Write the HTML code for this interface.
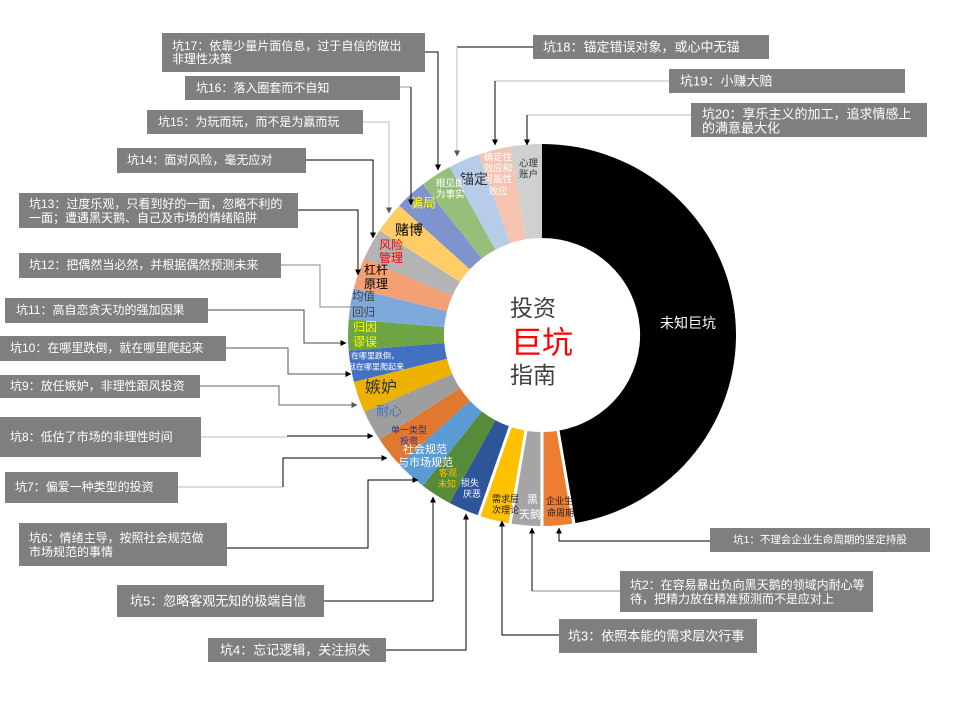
<!DOCTYPE html>
<html><head><meta charset="utf-8"><style>
html,body{margin:0;padding:0;background:#fff;}
svg{display:block;}
text{font-family:"Liberation Sans","Noto Sans CJK SC",sans-serif;dominant-baseline:central;}
.bx{fill:#7f7f7f;}
.bt{fill:#fff;font-size:12px;}
.b13{font-size:13px;}
</style></head><body>
<svg width="960" height="720" viewBox="0 0 960 720" xmlns="http://www.w3.org/2000/svg">
<defs>
<marker id="a" markerWidth="6" markerHeight="6" refX="5.5" refY="3" orient="auto" markerUnits="userSpaceOnUse"><path d="M0,0 L6,3 L0,6 z" fill="#000"/></marker>
<marker id="g" markerWidth="6" markerHeight="6" refX="5.5" refY="3" orient="auto" markerUnits="userSpaceOnUse"><path d="M0,0 L6,3 L0,6 z" fill="#555"/></marker>
</defs>
<rect width="960" height="720" fill="#fff"/>

<!-- donut -->
<path d="M542,144 A194,191 0 0 1 573.9,523.4 L558.1,430.7 A98,97 0 0 0 542,238 Z" fill="#000"/>
<path d="M573.9,523.4 A194,191 0 0 1 542,526 L542,432 A98,97 0 0 0 558.1,430.7 Z" fill="#ED7D31"/>
<path d="M542,526 A194,191 0 0 1 510.1,523.4 L525.9,430.7 A98,97 0 0 0 542,432 Z" fill="#A5A5A5"/>
<path d="M510.1,523.4 A194,191 0 0 1 479.0,515.6 L510.2,426.7 A98,97 0 0 0 525.9,430.7 Z" fill="#FFC000"/>
<path d="M479.0,515.6 A194,191 0 0 1 449.7,503.0 L495.4,420.3 A98,97 0 0 0 510.2,426.7 Z" fill="#2E559A"/>
<path d="M449.7,503.0 A194,191 0 0 1 422.8,485.7 L481.8,411.5 A98,97 0 0 0 495.4,420.3 Z" fill="#558B39"/>
<path d="M422.8,485.7 A194,191 0 0 1 399.3,464.4 L469.9,400.7 A98,97 0 0 0 481.8,411.5 Z" fill="#5B9BD5"/>
<path d="M399.3,464.4 A194,191 0 0 1 379.6,439.5 L460.0,388.1 A98,97 0 0 0 469.9,400.7 Z" fill="#E0782F"/>
<path d="M379.6,439.5 A194,191 0 0 1 364.3,411.7 L452.3,374.0 A98,97 0 0 0 460.0,388.1 Z" fill="#9E9E9E"/>
<path d="M364.3,411.7 A194,191 0 0 1 353.9,381.9 L447.0,358.8 A98,97 0 0 0 452.3,374.0 Z" fill="#EDB100"/>
<path d="M353.9,381.9 A194,191 0 0 1 348.7,350.8 L444.3,343.0 A98,97 0 0 0 447.0,358.8 Z" fill="#4470C2"/>
<path d="M348.7,350.8 A194,191 0 0 1 348.7,319.2 L444.3,327.0 A98,97 0 0 0 444.3,343.0 Z" fill="#6DA544"/>
<path d="M348.7,319.2 A194,191 0 0 1 353.9,288.1 L447.0,311.2 A98,97 0 0 0 444.3,327.0 Z" fill="#7FA9DB"/>
<path d="M353.9,288.1 A194,191 0 0 1 364.3,258.3 L452.3,296.0 A98,97 0 0 0 447.0,311.2 Z" fill="#F2A074"/>
<path d="M364.3,258.3 A194,191 0 0 1 379.6,230.5 L460.0,281.9 A98,97 0 0 0 452.3,296.0 Z" fill="#B4B4B4"/>
<path d="M379.6,230.5 A194,191 0 0 1 399.3,205.6 L469.9,269.3 A98,97 0 0 0 460.0,281.9 Z" fill="#FFCC66"/>
<path d="M399.3,205.6 A194,191 0 0 1 422.8,184.3 L481.8,258.5 A98,97 0 0 0 469.9,269.3 Z" fill="#7F93CE"/>
<path d="M422.8,184.3 A194,191 0 0 1 449.7,167.0 L495.4,249.7 A98,97 0 0 0 481.8,258.5 Z" fill="#96BF7C"/>
<path d="M449.7,167.0 A194,191 0 0 1 479.0,154.4 L510.2,243.3 A98,97 0 0 0 495.4,249.7 Z" fill="#B6CCE8"/>
<path d="M479.0,154.4 A194,191 0 0 1 510.1,146.6 L525.9,239.3 A98,97 0 0 0 510.2,243.3 Z" fill="#F5C3B0"/>
<path d="M510.1,146.6 A194,191 0 0 1 542,144 L542,238 A98,97 0 0 0 525.9,239.3 Z" fill="#D0D0D0"/>
<!-- white gaps -->
<g stroke="#fff" stroke-width="3">
<line x1="558.1" y1="430.7" x2="574.5" y2="527"/>
<line x1="542" y1="432" x2="542" y2="529"/>
<line x1="525.9" y1="430.7" x2="509.5" y2="527"/>
<line x1="510.2" y1="426.7" x2="478" y2="519"/>
</g>

<!-- ring labels -->
<g>
<text x="519" y="164" font-size="9.5" fill="#333">心理</text>
<text x="519" y="175" font-size="9.5" fill="#333">账户</text>
<g font-size="9.5" fill="#fff" text-anchor="middle">
<text x="498" y="158">确定性</text>
<text x="498" y="169">效应和</text>
<text x="498" y="180">可能性</text>
<text x="498" y="192">效应</text>
</g>
<text x="460" y="179" font-size="14" fill="#333">锚定</text>
<text x="436" y="184" font-size="9.5" fill="#fff">眼见即</text>
<text x="436" y="195" font-size="9.5" fill="#fff">为事实</text>
<text x="410" y="203" font-size="13" fill="#FFFF00">骗局</text>
<text x="395" y="230" font-size="14" fill="#000">赌博</text>
<text x="379" y="245" font-size="12" fill="#FF0000">风险</text>
<text x="379" y="258" font-size="12" fill="#FF0000">管理</text>
<text x="364" y="270" font-size="12" fill="#000">杠杆</text>
<text x="364" y="284" font-size="12" fill="#000">原理</text>
<text x="352" y="297" font-size="11.5" fill="#404040">均值</text>
<text x="352" y="313" font-size="11.5" fill="#404040">回归</text>
<text x="353" y="327" font-size="12" fill="#FFFF00">归因</text>
<text x="353" y="342" font-size="12" fill="#FFFF00">谬误</text>
<text x="351" y="356" font-size="8" fill="#fff">在哪里跌倒，</text>
<text x="348" y="367" font-size="8" fill="#fff">就在哪里爬起来</text>
<text x="365" y="388" font-size="16" fill="#333">嫉妒</text>
<text x="376" y="411" font-size="13" fill="#4472C4">耐心</text>
<text x="391" y="430" font-size="9" fill="#2E3192">单一类型</text>
<text x="400" y="441" font-size="9" fill="#2E3192">投资</text>
<text x="403" y="450" font-size="11" fill="#fff">社会规范</text>
<text x="398" y="463" font-size="11" fill="#fff">与市场规范</text>
<text x="439" y="473" font-size="9" fill="#FFC000">客观</text>
<text x="438" y="484" font-size="9" fill="#FFC000">未知</text>
<text x="461" y="483" font-size="9" fill="#fff">损失</text>
<text x="463" y="494" font-size="9" fill="#fff">厌恶</text>
<text x="492" y="499" font-size="9" fill="#222">需求层</text>
<text x="492" y="510" font-size="9" fill="#222">次理论</text>
<text x="527" y="500" font-size="11" fill="#fff">黑</text>
<text x="519" y="515" font-size="11" fill="#fff">天鹅</text>
<text x="546" y="501" font-size="9" fill="#222">企业生</text>
<text x="547" y="513" font-size="9" fill="#222">命周期</text>
<text x="660" y="323" font-size="14" fill="#fff">未知巨坑</text>
<text x="510" y="308" font-size="23" fill="#404040">投资</text>
<text x="511" y="343" font-size="31" fill="#FF0000">巨坑</text>
<text x="510" y="375" font-size="23" fill="#404040">指南</text>
</g>

<!-- connectors -->
<g fill="none" stroke-width="1">
<polyline points="710,541 559,541 559,528" stroke="#000" marker-end="url(#a)"/>
<line x1="620" y1="591" x2="532" y2="591" stroke="#888"/>
<polyline points="532,591 532,528" stroke="#000" marker-end="url(#a)"/>
<polyline points="559,635 502,635 502,521" stroke="#000" marker-end="url(#a)"/>
<polyline points="386,650 466,650 466,514" stroke="#000" marker-end="url(#a)"/>
<polyline points="324,601 433,601 433,497" stroke="#000" marker-end="url(#a)"/>
<polyline points="227,548 368,548 368,480 418,480" stroke="#000" marker-end="url(#a)"/>
<line x1="178" y1="487" x2="283" y2="487" stroke="#bbb"/>
<polyline points="283,487 283,458 387,458" stroke="#000" marker-end="url(#a)"/>
<line x1="201" y1="437" x2="287" y2="437" stroke="#bbb"/>
<polyline points="287,436 373,436" stroke="#000" marker-end="url(#a)"/>
<polyline points="200,386 279,386 279,405 357,405" stroke="#666" marker-end="url(#g)"/>
<polyline points="226,348 288,348 288,374 351,374" stroke="#555" marker-end="url(#a)"/>
<polyline points="208,310 304,310 304,343 346,343" stroke="#444" marker-end="url(#a)"/>
<polyline points="281,265 320,265 320,307 353,307" stroke="#888"/>
<polyline points="298,210 358,210 358,275" stroke="#000" marker-end="url(#a)"/>
<polyline points="306,160 373,160 373,238" stroke="#000" marker-end="url(#a)"/>
<polyline points="363,122 389,122 389,213" stroke="#bbb" marker-end="url(#g)"/>
<line x1="400" y1="87" x2="411" y2="87" stroke="#999"/>
<polyline points="411,87 411,205" stroke="#000" marker-end="url(#a)"/>
<polyline points="425,52 438,52 438,170" stroke="#000" marker-end="url(#a)"/>
<line x1="533" y1="47" x2="457" y2="47" stroke="#000"/>
<polyline points="457,47 457,156" stroke="#bbb" marker-end="url(#g)"/>
<line x1="669" y1="81" x2="495" y2="81" stroke="#bbb"/>
<polyline points="495,81 495,145" stroke="#000" marker-end="url(#a)"/>
<line x1="691" y1="115" x2="527" y2="115" stroke="#bbb"/>
<polyline points="527,115 527,145" stroke="#000" marker-end="url(#a)"/>
</g>

<!-- callout boxes -->
<rect class="bx" x="162" y="33" width="263" height="39"/>
<text class="bt" x="172" y="46">坑17：依靠少量片面信息，过于自信的做出</text>
<text class="bt" x="172" y="59">非理性决策</text>

<rect class="bx" x="185" y="76" width="215" height="24"/>
<text class="bt" x="196" y="88">坑16：落入圈套而不自知</text>

<rect class="bx" x="147" y="110" width="216" height="24"/>
<text class="bt" x="158" y="122">坑15：为玩而玩，而不是为赢而玩</text>

<rect class="bx" x="117" y="148" width="189" height="25"/>
<text class="bt" x="127" y="160">坑14：面对风险，毫无应对</text>

<rect class="bx" x="19" y="193" width="279" height="35"/>
<text class="bt" x="29" y="204">坑13：过度乐观，只看到好的一面，忽略不利的</text>
<text class="bt" x="29" y="218">一面；遭遇黑天鹅、自己及市场的情绪陷阱</text>

<rect class="bx" x="19" y="253" width="262" height="25"/>
<text class="bt" x="29" y="265">坑12：把偶然当必然，并根据偶然预测未来</text>

<rect class="bx" x="5" y="298" width="203" height="25"/>
<text class="bt" x="16" y="310">坑11：高自恋贪天功的强加因果</text>

<rect class="bx" x="0" y="336" width="226" height="25"/>
<text class="bt" x="10" y="348">坑10：在哪里跌倒，就在哪里爬起来</text>

<rect class="bx" x="0" y="375" width="200" height="23"/>
<text class="bt" x="10" y="386">坑9：放任嫉妒，非理性跟风投资</text>

<rect class="bx" x="0" y="417" width="201" height="40"/>
<text class="bt" x="10" y="437">坑8：低估了市场的非理性时间</text>

<rect class="bx" x="5" y="472" width="173" height="31"/>
<text class="bt" x="15" y="487">坑7：偏爱一种类型的投资</text>

<rect class="bx" x="19" y="523" width="208" height="43"/>
<text class="bt" x="29" y="538">坑6：情绪主导，按照社会规范做</text>
<text class="bt" x="29" y="552">市场规范的事情</text>

<rect class="bx" x="117" y="585" width="207" height="32"/>
<text class="bt b13" x="130" y="601">坑5：忽略客观无知的极端自信</text>

<rect class="bx" x="208" y="638" width="178" height="24"/>
<text class="bt b13" x="220" y="650">坑4：忘记逻辑，关注损失</text>

<rect class="bx" x="559" y="619" width="198" height="34"/>
<text class="bt b13" x="568" y="636">坑3：依照本能的需求层次行事</text>

<rect class="bx" x="620" y="571" width="253" height="41"/>
<text class="bt" x="630" y="585">坑2：在容易暴出负向黑天鹅的领域内耐心等</text>
<text class="bt" x="630" y="599">待，把精力放在精准预测而不是应对上</text>

<rect class="bx" x="710" y="528" width="220" height="24"/>
<text class="bt" x="820" y="540" font-size="10.5" text-anchor="middle" style="font-size:10.5px">坑1：不理会企业生命周期的坚定持股</text>

<rect class="bx" x="533" y="35" width="236" height="24"/>
<text class="bt b13" x="543" y="47">坑18：锚定错误对象，或心中无锚</text>

<rect class="bx" x="669" y="69" width="236" height="24"/>
<text class="bt b13" x="680" y="81">坑19：小赚大赔</text>

<rect class="bx" x="691" y="103" width="236" height="34"/>
<text class="bt b13" x="702" y="114">坑20：享乐主义的加工，追求情感上</text>
<text class="bt b13" x="702" y="128">的满意最大化</text>
</svg>
</body></html>
